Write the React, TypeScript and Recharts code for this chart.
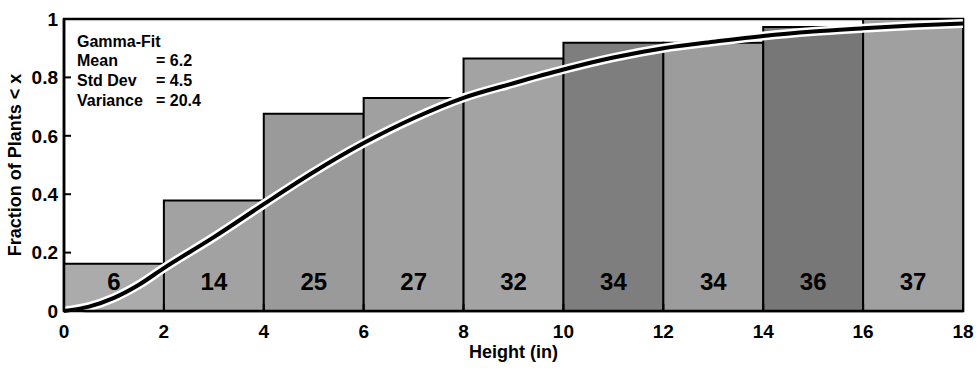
import React from 'react';
import {
  ComposedChart,
  Bar,
  Line,
  XAxis,
  YAxis,
  Cell,
  LabelList,
  Label,
  ReferenceArea,
} from 'recharts';

// ---- data ----
const binLabels = ['0-2', '2-4', '4-6', '6-8', '8-10', '10-12', '12-14', '14-16', '16-18'];
const cumulativeCounts = [6, 14, 25, 27, 32, 34, 34, 36, 37];
const totalPlants = 37;

const fitHeights = [0, 0.5, 1, 1.5, 2, 3, 4, 5, 6, 7, 8, 9, 10, 11, 12, 13, 14, 15, 16, 17, 18];
const fitFractions = [0, 0.015, 0.045, 0.09, 0.147, 0.253, 0.366, 0.476, 0.575, 0.66, 0.73, 0.78, 0.827, 0.868, 0.9, 0.922, 0.942, 0.957, 0.968, 0.978, 0.985];

const xTicks = [0, 2, 4, 6, 8, 10, 12, 14, 16, 18];
const yTicks = [0, 0.2, 0.4, 0.6, 0.8, 1];

const legendLabels = ['Mean', 'Std Dev', 'Variance'];
const legendValues = ['6.2', '4.5', '20.4'];

// ---- styles ----
const barFills = ['#ababab', '#a2a2a2', '#9a9a9a', '#a0a0a0', '#a3a3a3', '#7e7e7e', '#9c9c9c', '#777777', '#a0a0a0'];
const FONT = '"Liberation Sans", Arial, Helvetica, sans-serif';
const NARROW = '"Liberation Sans Narrow", "Arial Narrow", "Liberation Sans", Arial, sans-serif';
const FRAME = '#000000';

const barData = binLabels.map((bin, i) => ({
  bin,
  count: cumulativeCounts[i],
  fraction: cumulativeCounts[i] / totalPlants,
}));
const fitData = fitHeights.map((h, i) => ({ h, f: fitFractions[i] }));

const fmtY = (v: number) => (v === 0 ? '0' : v === 1 ? '1' : v.toFixed(1));

const CountLabel = (props: any) => {
  const { x, y, width, height, value } = props;
  return (
    <text
      x={Number(x) + Number(width) / 2}
      y={Number(y) + Number(height) - 30}
      textAnchor="middle"
      dominantBaseline="central"
      fontFamily={NARROW}
      fontWeight="bold"
      fontSize={24}
      fill="#000"
    >
      {value}
    </text>
  );
};

export default function App() {
  const tickStyle = { fontFamily: FONT, fontWeight: 'bold', fontSize: 19, fill: '#000' } as any;
  return (
    <div style={{ position: 'absolute', left: 0, top: 0, width: 978, height: 370, background: '#fff' }}>
      <ComposedChart
        width={978}
        height={370}
        data={barData}
        margin={{ top: 19, right: 15, bottom: 0, left: 0 }}
        barCategoryGap={0}
        barGap={0}
      >
        <XAxis
          xAxisId="cat"
          dataKey="bin"
          type="category"
          hide
          height={0}
          padding={{ left: 0, right: 0 }}
        />
        <XAxis
          xAxisId="num"
          type="number"
          dataKey="h"
          domain={[0, 18]}
          ticks={xTicks}
          interval={0}
          allowDataOverflow
          tick={tickStyle}
          tickSize={-7}
          tickMargin={21}
          stroke={FRAME}
          axisLine={{ stroke: FRAME, strokeWidth: 2.5 }}
          tickLine={{ stroke: FRAME, strokeWidth: 2 }}
          height={59}
        >
          <Label
            value="Height (in)"
            position="insideBottom"
            offset={12}
            style={{ fontFamily: FONT, fontWeight: 'bold', fontSize: 18, fill: '#000' }}
          />
        </XAxis>
        <XAxis
          xAxisId="top"
          orientation="top"
          type="number"
          domain={[0, 18]}
          ticks={xTicks}
          interval={0}
          tick={false}
          tickSize={-7}
          height={0}
          stroke={FRAME}
          axisLine={{ stroke: FRAME, strokeWidth: 2.5 }}
          tickLine={{ stroke: FRAME, strokeWidth: 2 }}
        />
        <YAxis
          yAxisId="left"
          type="number"
          domain={[0, 1]}
          ticks={yTicks}
          interval={0}
          tickFormatter={fmtY}
          tick={tickStyle}
          tickSize={-7}
          tickMargin={13}
          width={64}
          stroke={FRAME}
          axisLine={{ stroke: FRAME, strokeWidth: 2.5 }}
          tickLine={{ stroke: FRAME, strokeWidth: 2 }}
        >
          <Label
            value="Fraction of Plants < x"
            angle={-90}
            position="insideLeft"
            offset={15}
            style={{ textAnchor: 'middle', fontFamily: FONT, fontWeight: 'bold', fontSize: 18, fill: '#000' }}
          />
        </YAxis>
        <YAxis
          yAxisId="right"
          orientation="right"
          type="number"
          domain={[0, 1]}
          ticks={yTicks}
          interval={0}
          tick={false}
          tickSize={-7}
          width={0}
          stroke={FRAME}
          axisLine={{ stroke: FRAME, strokeWidth: 2.5 }}
          tickLine={{ stroke: FRAME, strokeWidth: 2 }}
        />
        <Bar
          xAxisId="cat"
          yAxisId="left"
          dataKey="fraction"
          stroke="#000"
          strokeWidth={2}
          isAnimationActive={false}
        >
          {barData.map((d, i) => (
            <Cell key={d.bin} fill={barFills[i]} />
          ))}
          <LabelList dataKey="count" content={CountLabel} />
        </Bar>
        <Line
          xAxisId="num"
          yAxisId="left"
          data={fitData}
          dataKey="f"
          type="monotone"
          stroke="#ffffff"
          strokeWidth={9}
          dot={false}
          activeDot={false}
          isAnimationActive={false}
        />
        <Line
          xAxisId="num"
          yAxisId="left"
          data={fitData}
          dataKey="f"
          type="monotone"
          stroke="#000000"
          strokeWidth={4}
          dot={false}
          activeDot={false}
          isAnimationActive={false}
        />
        <ReferenceArea
          xAxisId="num"
          yAxisId="left"
          x1={0}
          x2={18}
          y1={0}
          y2={1}
          fill="none"
          fillOpacity={0}
          stroke={FRAME}
          strokeWidth={2.5}
          ifOverflow="visible"
        />
      </ComposedChart>
      <svg
        width={978}
        height={370}
        style={{ position: 'absolute', left: 0, top: 0, pointerEvents: 'none' }}
      >
        <text x={77} y={47} fontFamily={FONT} fontWeight="bold" fontSize={16} fill="#000">
          Gamma-Fit
        </text>
        {legendLabels.map((lab, i) => (
          <g key={lab}>
            <text x={77} y={66 + i * 20} fontFamily={FONT} fontWeight="bold" fontSize={16} fill="#000">
              {lab}
            </text>
            <text x={156} y={66 + i * 20} fontFamily={FONT} fontWeight="bold" fontSize={16} fill="#000">
              {'= ' + legendValues[i]}
            </text>
          </g>
        ))}
      </svg>
    </div>
  );
}
